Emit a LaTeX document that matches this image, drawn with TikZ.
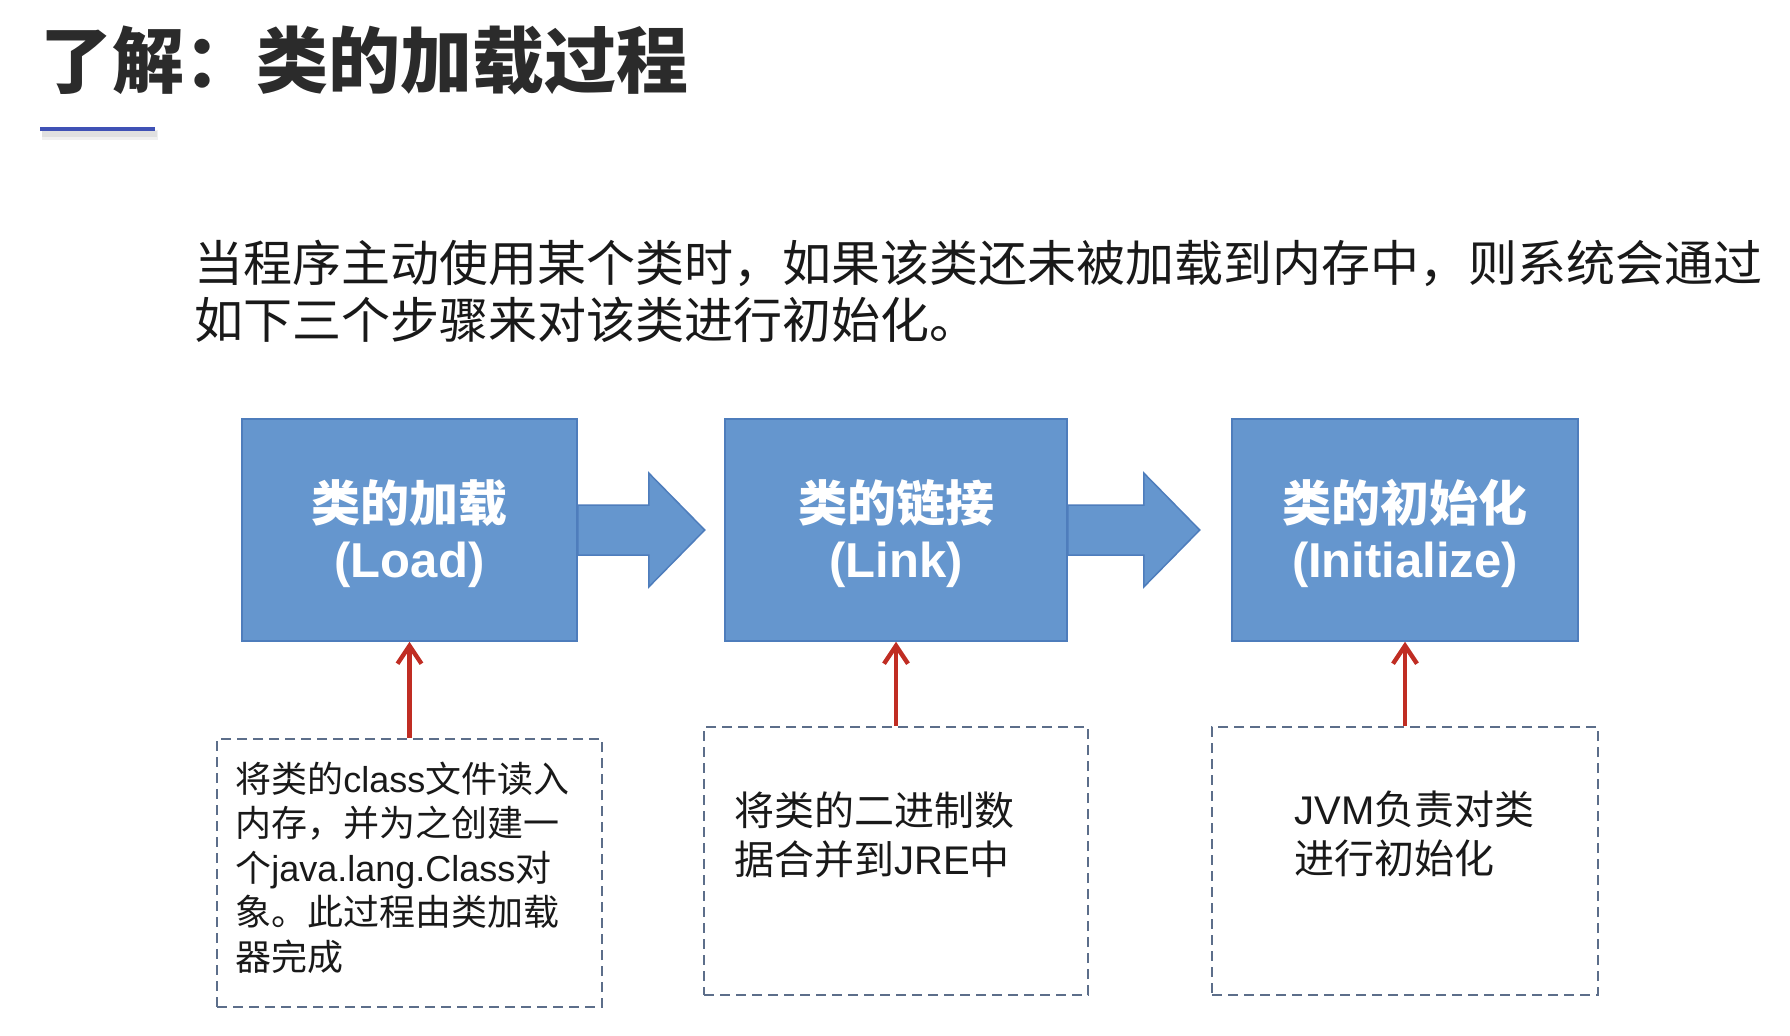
\documentclass[tikz,border=0pt]{standalone}
\usepackage{fontspec}
\setmainfont{Liberation Sans}
\newfontfamily\cjk{Noto Sans CJK SC}
\usetikzlibrary{arrows.meta}
\definecolor{boxblue}{RGB}{101,150,206}
\definecolor{boxedge}{RGB}{78,125,188}
\definecolor{redline}{RGB}{192,45,35}
\definecolor{dashgray}{RGB}{92,110,138}
\definecolor{titlegray}{RGB}{43,43,43}
\definecolor{ulblue}{RGB}{63,81,181}
\begin{document}
\begin{tikzpicture}[x=0.5pt,y=-0.5pt,
  stepbox/.style={draw=boxedge, line width=0.75pt, fill=boxblue, minimum height=111pt, inner sep=0pt},
  notebox/.style={draw=dashgray, line width=1.4pt, dash pattern=on 5pt off 3pt, minimum height=134pt, inner sep=0pt},
  linetext/.style={anchor=base west, inner sep=0pt, text=black!90},
  smalltext/.style={linetext, font=\fontsize{18pt}{22pt}\selectfont},
  midtext/.style={linetext, font=\fontsize{20pt}{24pt}\selectfont},
  boxtext/.style={anchor=base, inner sep=0pt, text=white, font=\bfseries\fontsize{24.5pt}{30pt}\selectfont},
  flow/.style={draw=boxedge, line width=0.75pt, fill=boxblue},
  feed/.style={draw=redline, line width=2.2pt, -{Straight Barb[length=9pt,width=12pt]}}
]
\useasboundingbox (0,0) rectangle (1790,1035);

% title
\node[anchor=base west, inner sep=0pt, text=titlegray, font={\cjk\bfseries\fontsize{36pt}{40pt}\selectfont}] (title) at (40,87) {了解：类的加载过程};
\draw[line width=5pt, black!6] (42,135) -- (158,135);
\draw[line width=3pt, black!12] (42,134) -- (157,134);
\draw[line width=2pt, ulblue] (40,129) -- (155,129);

% paragraph
\node[linetext, font={\cjk\fontsize{24.5pt}{28pt}\selectfont}] (p1) at (194,281) {当程序主动使用某个类时，如果该类还未被加载到内存中，则系统会通过};
\node[linetext, font={\cjk\fontsize{24.5pt}{28pt}\selectfont}] (p2) at (194,338) {如下三个步骤来对该类进行初始化。};

% step boxes
\node[stepbox, minimum width=167.5pt] (b1) at (409.5,530) {};
\node[stepbox, minimum width=171pt] (b2) at (896,530) {};
\node[stepbox, minimum width=173pt] (b3) at (1405,530) {};

% block arrows
\draw[flow] (b1.east) ++(0,-25) -- ++(71,0) -- ++(0,-32) -- ++(56,57) -- ++(-56,57) -- ++(0,-32) -- ++(-71,0) -- cycle;
\draw[flow] (b2.east) ++(0,-25) -- ++(76,0) -- ++(0,-32) -- ++(56,57) -- ++(-56,57) -- ++(0,-32) -- ++(-76,0) -- cycle;

% box labels
\node[boxtext] (b1a) at (409.5,521) {\cjk 类的加载};
\node[boxtext] (b1b) at (409.5,577) {(Load)};
\node[boxtext] (b2a) at (896,521) {\cjk 类的链接};
\node[boxtext] (b2b) at (896,577) {(Link)};
\node[boxtext] (b3a) at (1405,521) {\cjk 类的初始化};
\node[boxtext] (b3b) at (1405,577) {(Initialize)};

% note boxes
\node[notebox, minimum width=192.5pt] (d1) at (409.5,873) {};
\node[notebox, minimum width=192pt] (d2) at (896,861) {};
\node[notebox, minimum width=193pt] (d3) at (1405,861) {};

\node[smalltext] (d1l1) at (235,792) {{\cjk 将类的}class{\cjk 文件读入}};
\node[smalltext] (d1l2) at (235,836) {\cjk 内存，并为之创建一};
\node[smalltext] (d1l3) at (235,881) {{\cjk 个}java.lang.Class{\cjk 对}};
\node[smalltext] (d1l4) at (235,925) {\cjk 象。此过程由类加载};
\node[smalltext] (d1l5) at (235,970) {\cjk 器完成};

\node[midtext] (d2l1) at (734,825) {\cjk 将类的二进制数};
\node[midtext] (d2l2) at (734,874) {{\cjk 据合并到}JRE{\cjk 中}};

\node[midtext] (d3l1) at (1294,824) {JVM{\cjk 负责对类}};
\node[midtext] (d3l2) at (1294,873) {\cjk 进行初始化};

% feed arrows
\draw[feed] (d1.north) -- (b1.south);
\draw[feed] (d2.north) -- (b2.south);
\draw[feed] (d3.north) -- (b3.south);
\end{tikzpicture}
\end{document}
